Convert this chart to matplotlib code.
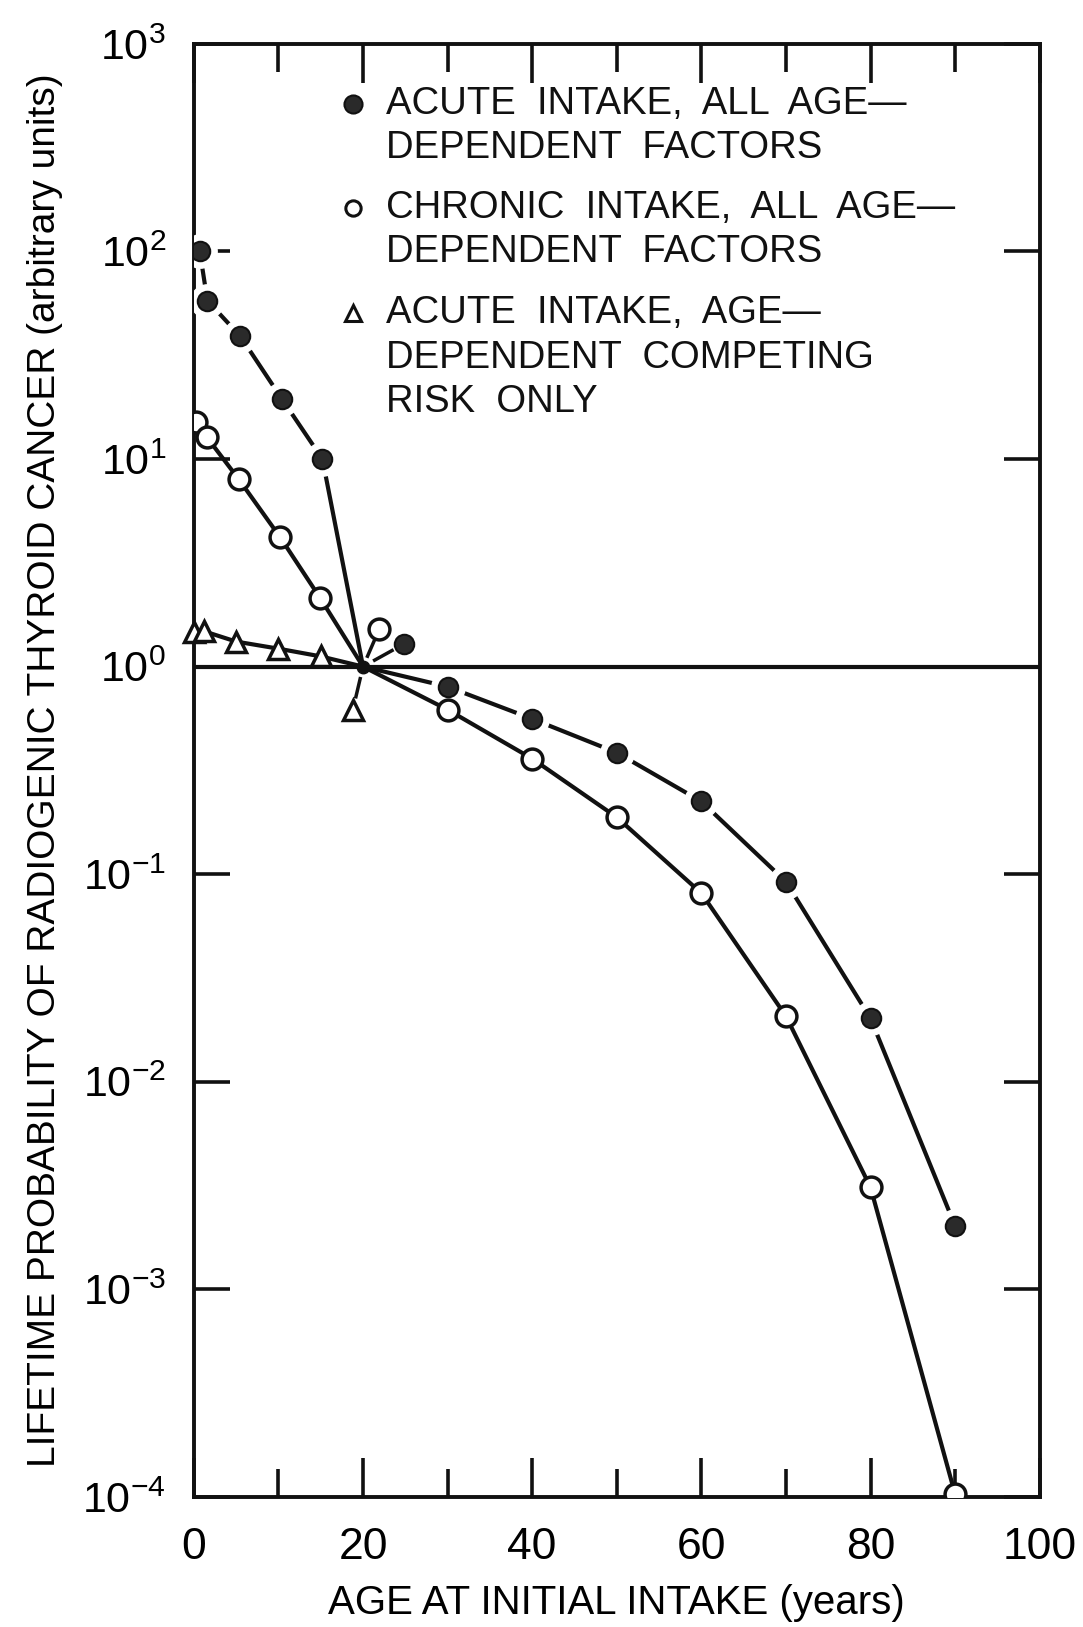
import numpy as np
import matplotlib
matplotlib.use("Agg")
import matplotlib.pyplot as plt
from matplotlib.ticker import FixedLocator, NullLocator

plt.rcParams['font.family'] = ['Liberation Sans', 'DejaVu Sans']
plt.rcParams['mathtext.fontset'] = 'custom'
plt.rcParams['mathtext.rm'] = 'Liberation Sans'
plt.rcParams['mathtext.it'] = 'Liberation Sans'

# ---------------- data ----------------
acute_age = [0.7, 1.6, 5.5, 10.4, 15.2, 20, 30, 40, 50, 60, 70, 80, 90]
acute_val = [100, 58, 39, 19.5, 10.0, 1.0, 0.80, 0.56, 0.385, 0.224, 0.092, 0.0202, 0.00202]

chronic_age = [0.3, 1.5, 5.3, 10.2, 14.9, 20, 30, 40, 50, 60, 70, 80, 90]
chronic_val = [15.0, 12.8, 8.0, 4.2, 2.15, 1.0, 0.62, 0.36, 0.188, 0.081, 0.0207, 0.0031, 0.000103]

compet_age = [0.0, 1.2, 5.0, 10.0, 15.0, 20]
compet_val = [1.46, 1.48, 1.32, 1.22, 1.12, 1.0]

# displaced markers drawn around the common point at age 20
offset_age = [24.9, 21.9, 18.8]
offset_val = [1.29, 1.51, 0.62]
offset_kind = ['acute', 'chronic', 'compet']

common_age = [20]
common_val = [1.0]

legend_lines = [
    ['ACUTE  INTAKE,  ALL  AGE\u2014', 'DEPENDENT  FACTORS'],
    ['CHRONIC  INTAKE,  ALL  AGE\u2014', 'DEPENDENT  FACTORS'],
    ['ACUTE  INTAKE,  AGE\u2014', 'DEPENDENT  COMPETING', 'RISK  ONLY'],
]
x_ticks = [0, 20, 40, 60, 80, 100]
x_minor = [10, 30, 50, 70, 90]
y_exps = [-4, -3, -2, -1, 0, 1, 2, 3]

# ---------------- figure ----------------
fig = plt.figure(figsize=(10.83, 16.27), dpi=100)
ax = fig.add_axes([0.179, 0.080, 0.781, 0.893])
ax.set_yscale('log')
ax.set_xlim(0, 100)
ax.set_ylim(1e-4, 1e3)

K = '#111111'
lw = 3.0

# reference line at 1
ax.axhline(1.0, color=K, lw=3.0, zorder=1)

# acute: broken line (gaps around the markers)
ax.plot(acute_age, acute_val, color=K, lw=lw, zorder=2)
ax.plot(acute_age[:5] + acute_age[6:], acute_val[:5] + acute_val[6:], ls='none',
        marker='o', ms=24, mfc='white', mec='white', zorder=3)

# chronic and competing-risk lines
ax.plot(chronic_age, chronic_val, color=K, lw=lw, zorder=4)
ax.plot(compet_age, compet_val, color=K, lw=lw, zorder=4)

# markers
ax.plot(acute_age[:5] + acute_age[6:], acute_val[:5] + acute_val[6:], ls='none',
        marker='o', ms=14, mfc='#2a2a2a', mec=K, mew=1.5, zorder=6)
ax.plot(chronic_age[:5] + chronic_age[6:], chronic_val[:5] + chronic_val[6:], ls='none',
        marker='o', ms=15, mfc='white', mec=K, mew=2.5, zorder=6)
ax.plot(compet_age[:5], compet_val[:5], ls='none', clip_on=False,
        marker='^', ms=14, mfc='white', mec=K, mew=2.5, zorder=6)

# common point and displaced markers with short stubs
ax.plot(common_age, common_val, ls='none', marker='o', ms=9, color=K, zorder=7)
style = {'acute': dict(marker='o', ms=14, mfc='#2a2a2a', mec=K, mew=1.5),
         'chronic': dict(marker='o', ms=15, mfc='white', mec=K, mew=2.5),
         'compet': dict(marker='^', ms=15, mfc='white', mec=K, mew=2.5)}
for a, v, k in zip(offset_age, offset_val, offset_kind):
    la, lv = np.log10(v), np.log10(common_val[0])
    fr = np.array([0.30, 0.72])
    xs = common_age[0] + (a - common_age[0]) * (1 - fr)
    ys = 10 ** (lv + (la - lv) * (1 - fr))
    ax.plot(xs, ys, color=K, lw=2.5, zorder=5)
    ax.plot([a], [v], ls='none', zorder=6, **style[k])

# axes styling
for s in ax.spines.values():
    s.set_linewidth(2.8)
    s.set_color(K)

ax.xaxis.set_major_locator(FixedLocator(x_ticks))
ax.xaxis.set_minor_locator(FixedLocator(x_minor))
ax.set_xticklabels([str(t) for t in x_ticks])
ax.yaxis.set_major_locator(FixedLocator([10.0 ** e for e in y_exps]))
ax.yaxis.set_minor_locator(NullLocator())
ax.set_yticklabels([r'$10^{%d}$' % e for e in y_exps])

ax.tick_params(axis='x', which='major', direction='in', length=28, width=2.6,
               top=True, bottom=True, labelsize=32, pad=22, color=K)
ax.tick_params(axis='x', which='minor', direction='in', length=20, width=2.6,
               top=True, bottom=True, color=K)
ax.tick_params(axis='y', which='major', direction='in', length=26, width=2.6,
               left=True, right=True, labelsize=31, pad=20, color=K)

ax.set_xlabel('AGE AT INITIAL INTAKE (years)', fontsize=29, labelpad=11)
ax.set_ylabel('LIFETIME PROBABILITY OF RADIOGENIC THYROID CANCER (arbitrary units)',
              fontsize=28, labelpad=14)

# legend (manual, marker beside first line of each entry)
leg_marker = [dict(marker='o', ms=13, mfc='#2a2a2a', mec=K, mew=1.5),
              dict(marker='o', ms=11, mfc='white', mec=K, mew=2.2),
              dict(marker='^', ms=11, mfc='white', mec=K, mew=2.2)]
y0s = [0.9586, 0.887, 0.8145]
dy = 0.0305
for lines, m, y0 in zip(legend_lines, leg_marker, y0s):
    ax.plot([0.188], [y0], transform=ax.transAxes, ls='none', clip_on=False, **m)
    for i, t in enumerate(lines):
        ax.text(0.227, y0 - i * dy, t, transform=ax.transAxes, fontsize=27.5,
                va='center', ha='left', color=K)

fig.savefig('out.png', dpi=100, facecolor='white')
